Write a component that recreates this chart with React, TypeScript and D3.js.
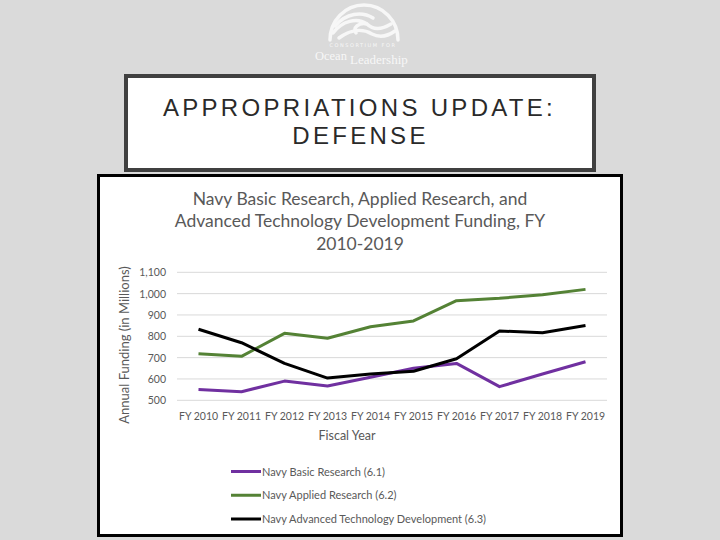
import React from "react";
import * as d3 from "d3";

const categories = ["FY 2010", "FY 2011", "FY 2012", "FY 2013", "FY 2014", "FY 2015", "FY 2016", "FY 2017", "FY 2018", "FY 2019"];
const basicResearch = [551, 540, 590, 567, 608, 650, 673, 564, 623, 681];
const appliedResearch = [718, 706, 814, 791, 845, 872, 967, 978, 995, 1020];
const advancedTech = [833, 770, 673, 604, 623, 636, 695, 825, 817, 851];
const yTicks = [500, 600, 700, 800, 900, 1000, 1100];
const seriesNames = ["Navy Basic Research (6.1)", "Navy Applied Research (6.2)", "Navy Advanced Technology Development (6.3)"];
const seriesColors = ["#7030a0", "#548235", "#000000"];
const titleLines = ["Navy Basic Research, Applied Research, and", "Advanced Technology Development Funding, FY", "2010-2019"];

const FONT = "Lato, 'Open Sans', sans-serif";

export default function App() {
  const x = d3.scaleBand<string>().domain(categories).range([177, 607]);
  const y = d3.scaleLinear().domain([500, 1100]).range([400.3, 272.3]);
  const fmt = d3.format(",");
  const line = d3
    .line<number>()
    .x((_, i) => (x(categories[i]) as number) + x.bandwidth() / 2)
    .y((d) => y(d));
  const allSeries = [basicResearch, appliedResearch, advancedTech];
  const legendY = d3.scalePoint<number>().domain([0, 1, 2]).range([471.5, 519]);

  return (
    <svg width={720} height={540} style={{ position: "absolute", left: 0, top: 0 }}>
      <rect x={0} y={0} width={720} height={540} fill="#dadada" />
      {/* logo */}
      <g fill="none" stroke="#f7f7f7" strokeWidth={3.5} strokeLinecap="round">
        <path d="M330,40 A34,35 0 0 1 398,40" />
        <path d="M333,33 C342,21 357,17 367,24 C359,22 352,28 356,33" />
        <path d="M339,38 C350,30 362,28 372,34 C380,38 388,36 395,31" />
        <path d="M335,26 C346,13 362,11 373,18" />
        <path d="M367,24 C373,30 381,30 391,24" />
      </g>
      <text x={363} y={46.5} fontFamily="'DejaVu Sans', sans-serif" fontSize={5} fill="#f7f7f7" textAnchor="middle" letterSpacing={1.5}>CONSORTIUM FOR</text>
      <text x={315} y={59.5} fontFamily="'Liberation Serif', serif" fontSize={12.5} fill="#f7f7f7">Ocean</text>
      <text x={350} y={64} fontFamily="'Liberation Serif', serif" fontSize={13} fill="#f7f7f7">Leadership</text>

      {/* slide title box */}
      <rect x={126} y={76} width={468} height={94} fill="#ffffff" stroke="#404040" strokeWidth={4} />
      <text x={359.5} y={116} textAnchor="middle" fontFamily="'Liberation Sans', Arial, sans-serif" fontSize={24} letterSpacing={3.3} fill="#2a2a2a">APPROPRIATIONS UPDATE:</text>
      <text x={360.5} y={144} textAnchor="middle" fontFamily="'Liberation Sans', Arial, sans-serif" fontSize={24} letterSpacing={3.3} fill="#2a2a2a">DEFENSE</text>

      {/* chart box */}
      <rect x={98.5} y={175.5} width={523} height={360} fill="#ffffff" stroke="#000000" strokeWidth={3} />

      {/* chart title */}
      {titleLines.map((t, i) => (
        <text key={t} x={360} y={204.5 + i * 22.5} textAnchor="middle" fontFamily={FONT} fontSize={17.5} fill="#595959">{t}</text>
      ))}

      {/* gridlines */}
      {yTicks.map((v) => (
        <line key={v} x1={177} x2={607} y1={y(v)} y2={y(v)} stroke="#d9d9d9" strokeWidth={1} />
      ))}
      {yTicks.map((v) => (
        <text key={"t" + v} x={166} y={y(v) + 4} textAnchor="end" fontFamily={FONT} fontSize={10.5} fill="#595959">{fmt(v)}</text>
      ))}
      {categories.map((c) => (
        <text key={c} x={(x(c) as number) + x.bandwidth() / 2} y={419.5} textAnchor="middle" fontFamily={FONT} fontSize={10.5} fill="#595959">{c}</text>
      ))}
      <text x={347} y={439.5} textAnchor="middle" fontFamily={FONT} fontSize={12.5} fill="#595959">Fiscal Year</text>
      <text transform="translate(129,345) rotate(-90)" textAnchor="middle" fontFamily={FONT} fontSize={13} fill="#595959">Annual Funding (in Millions)</text>

      {/* lines */}
      {allSeries.map((s, i) => (
        <path key={i} d={line(s) as string} fill="none" stroke={seriesColors[i]} strokeWidth={3} strokeLinejoin="round" />
      ))}

      {/* legend */}
      {seriesNames.map((n, i) => (
        <g key={n}>
          <line x1={231} x2={261} y1={legendY(i)} y2={legendY(i)} stroke={seriesColors[i]} strokeWidth={3} />
          <text x={262} y={(legendY(i) as number) + 4} fontFamily={FONT} fontSize={11} fill="#595959">{n}</text>
        </g>
      ))}
    </svg>
  );
}
